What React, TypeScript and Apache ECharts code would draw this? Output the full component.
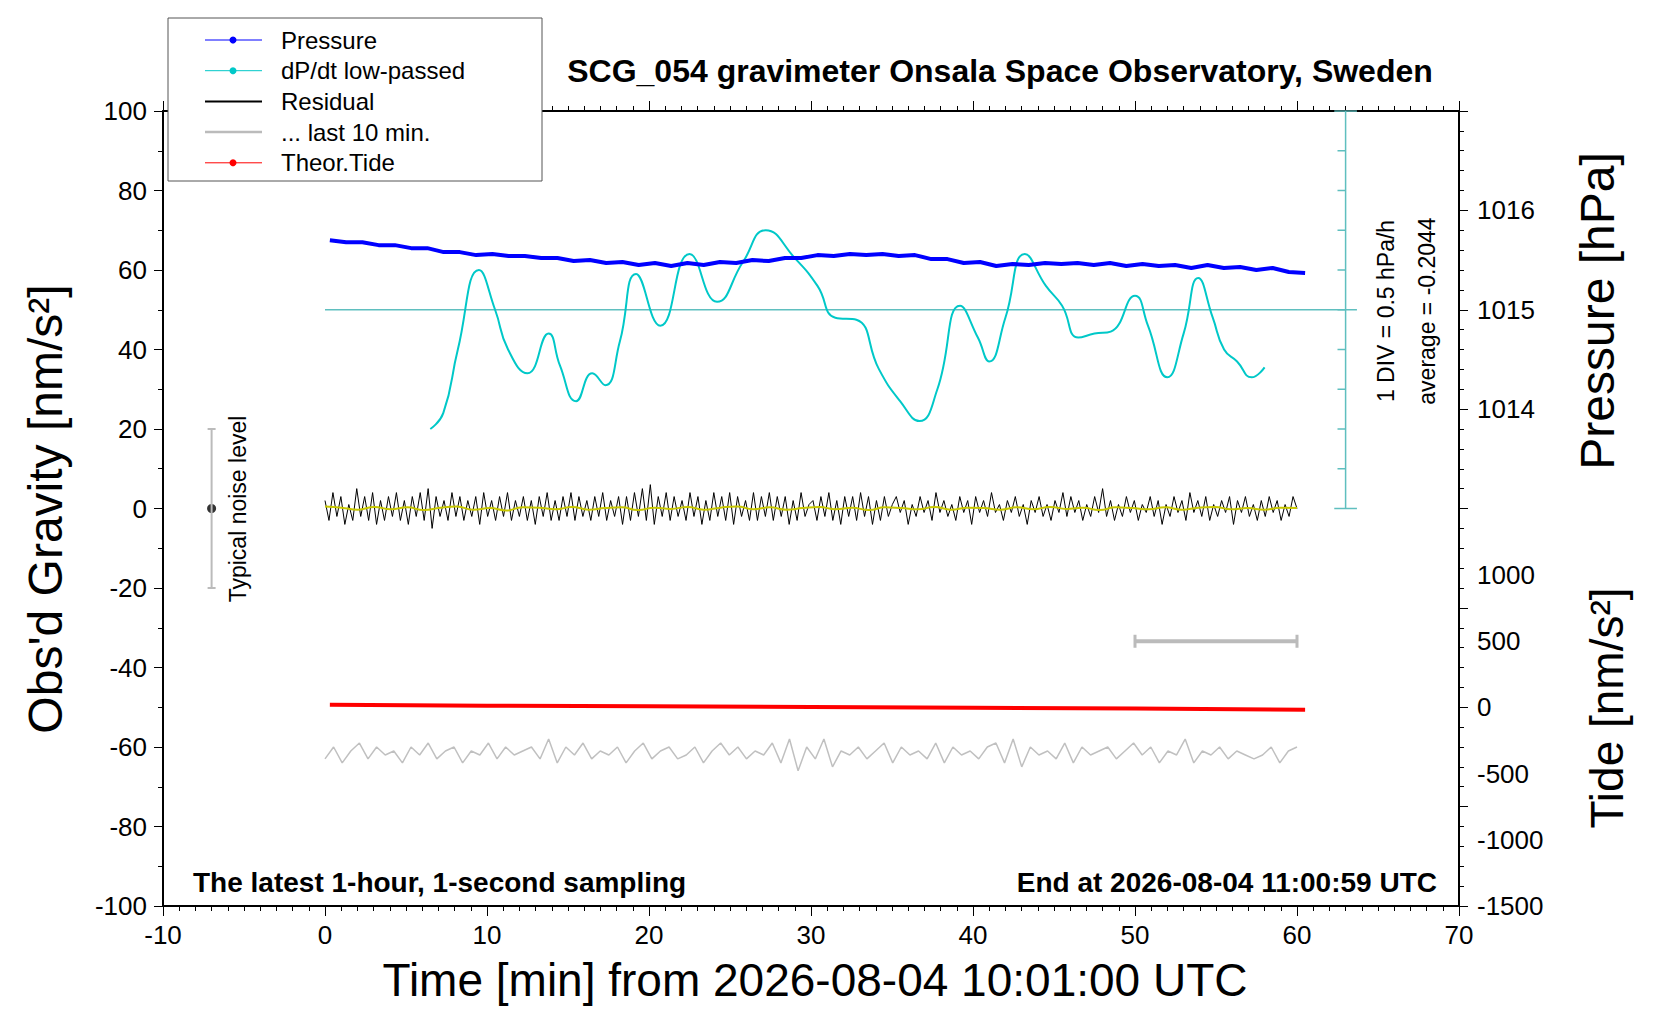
import * as echarts from "echarts";
import { useEffect, useRef } from "react";

const pressureStart = 0.3;
const pressureEnd = 60.5;
const pressure = [
  1015.70, 1015.68, 1015.68, 1015.65, 1015.65, 1015.62, 1015.62, 1015.58, 1015.58, 1015.55,
  1015.56, 1015.54, 1015.54, 1015.52, 1015.52, 1015.49, 1015.50, 1015.47, 1015.48, 1015.45,
  1015.47, 1015.44, 1015.47, 1015.45, 1015.48, 1015.47, 1015.50, 1015.49, 1015.52, 1015.52,
  1015.55, 1015.54, 1015.56, 1015.55, 1015.56, 1015.54, 1015.55, 1015.51, 1015.51, 1015.47,
  1015.48, 1015.44, 1015.46, 1015.45, 1015.47, 1015.46, 1015.47, 1015.45, 1015.47, 1015.44,
  1015.46, 1015.44, 1015.45, 1015.42, 1015.45, 1015.42, 1015.43, 1015.40, 1015.42, 1015.38,
  1015.37,
];

// dP/dt low-passed, in plot units (1 DIV = 10 units = 0.5 hPa/h, 50 = average)
const dpdt: [number, number][] = [
  [6.5, 20], [7.3, 24], [8.2, 40], [9.5, 60], [10.5, 50], [11.3, 40], [12.5, 34], [13.8, 44],
  [14.5, 36], [15.5, 27], [16.5, 34], [17.3, 31], [18.2, 42], [19.2, 59], [20.7, 46],
  [22.5, 64], [24.2, 52], [25.8, 62], [27.2, 70], [29, 63], [30.4, 56], [31.5, 48],
  [32.8, 47.5], [34.2, 35], [35.5, 27], [36.7, 22], [37.8, 30], [39.2, 51], [40.3, 43],
  [41, 37], [42, 48], [43.2, 64], [44.5, 56], [45.5, 51], [46.5, 43], [47.5, 44],
  [48.5, 44.5], [50, 53.5], [50.8, 46], [52, 33], [53, 44], [53.9, 58], [54.8, 48],
  [55.5, 40], [56.3, 37], [57.2, 33], [58, 35.5],
];

const residual = [
  2, -3, 4, -2, 3, -4, 1, -3, 5, -2, 3, -3, 4, -4, 2, -3, 3, -2, 4, -3, 2, -4, 3, -2, 4, -3,
  5, -5, 3, -2, 2, -3, 4, -2, 3, -3, 2, -2, 3, -4, 4, -2, 2, -3, 3, -2, 4, -3, 2, -2, 3, -3,
  2, -4, 3, -2, 4, -3, 2, -3, 3, -2, 4, -3, 3, -2, 2, -3, 3, -2, 4, -3, 2, -2, 3, -4, 3, -3,
  4, -2, 5, -3, 6, -4, 3, -2, 4, -3, 3, -2, 2, -3, 4, -2, 3, -4, 2, -3, 4, -2, 3, -3, 4, -4,
  3, -2, 2, -3, 4, -3, 3, -2, 4, -3, 3, -2, 3, -4, 2, -3, 4, -2, 1, 2, -3, 3, -2, 4, -3, 2,
  -4, 3, -2, 3, -3, 4, -2, 3, -4, 2, -3, 3, -2, 1, 3, -1, 2, -4, 1, -2, 3, -1, 2, -3, 4, -1,
  2, -2, 1, -3, 3, -1, 2, -4, 3, -1, 2, -2, 4, -1, 1, -3, 2, -1, 3, -2, 1, -4, 2, -1, 3, -2,
  1, -3, 2, -1, 4, -2, 3, -1, 2, -3, 1, -2, 3, -1, 5, -2, 2, -3, 1, -2, 3, -1, 2, -3, 1, -1,
  3, -2, 2, -4, 1, -2, 3, -1, 2, -3, 4, -1, 2, -2, 3, -3, 1, -2, 2, -1, 3, -4, 2, -1, 3, -2,
  1, -3, 2, -2, 3, -1, 2, -3, 1, -2, 3, 0,
];
const residualSmooth = [
  0.5, 0.2, -0.3, 0.4, -0.2, 0.3, -0.4, 0.2, 0.5, -0.3, 0.1, -0.5, 0.3, 0.2, -0.2, 0.4,
  -0.3, 0.1, 0.3, -0.4, 0.2, -0.1, 0.4, -0.3, 0.2, 0.5, -0.2, 0.3, -0.3, 0.1, 0.4, -0.2,
  0.2, -0.4, 0.3, 0.1, -0.2, 0.4, -0.3, 0.2, 0.1, -0.3, 0.3, -0.2, 0.4, -0.1, 0.2, -0.4,
  0.3, 0.1, -0.2, 0.3, -0.3, 0.2, 0.4, -0.2, 0.1, -0.3, 0.2, 0.1,
];
const last10 = [
  -63, -60, -64, -61, -59, -63, -60, -62, -61, -64, -60, -62, -59, -63, -61, -60, -64, -61,
  -62, -59, -63, -60, -62, -61, -60, -63, -58, -64, -60, -62, -59, -63, -61, -62, -60, -64,
  -61, -59, -63, -61, -60, -63, -62, -60, -64, -61, -59, -62, -60, -63, -61, -62, -59, -64,
  -58, -66, -60, -63, -58, -65, -61, -62, -60, -63, -61, -59, -64, -60, -62, -61, -63, -59,
  -64, -60, -62, -61, -63, -60, -59, -64, -58, -65, -60, -62, -61, -63, -59, -64, -60, -62,
  -61, -60, -63, -61, -59, -62, -60, -64, -61, -62, -58, -64, -61, -62, -60, -63, -61, -62,
  -63, -62, -60, -64, -61, -60,
];
const tide: [number, number][] = [
  [0.3, 18], [10, 12], [20, 8], [30, 2], [40, -4], [50, -10], [60.5, -18],
];
const noiseBar: [number, number][] = [[-7, -20], [-7, 20]];
const scaleBar: [number, number][] = [[50, -33.4], [60, -33.4]];
const divAxis = [0, 10, 20, 30, 40, 50, 60, 70, 80, 90, 100];

const font = "Liberation Sans, Arial, sans-serif";

const spread = (vals: number[], a: number, b: number) =>
  vals.map((v, i) => [a + ((b - a) * i) / (vals.length - 1), v]);

export default function App() {
  const ref = useRef<HTMLDivElement>(null);

  useEffect(() => {
    if (!ref.current) return;
    const chart = echarts.init(ref.current, null, { renderer: "svg" });

    const divTicks: (number[] | null)[] = [];
    divAxis.forEach((v) => {
      const long = v === 0 || v === 100;
      divTicks.push([long ? 62.3 : 62.5, v], [long ? 63.7 : 63, v], null);
    });

    const label = { fontSize: 26, color: "#000", fontFamily: font };
    const legendRows = [
      { name: "Pressure", color: "#0000ff", dot: true, w: 1 },
      { name: "dP/dt low-passed", color: "#00c8c8", dot: true, w: 1 },
      { name: "Residual", color: "#000", dot: false, w: 2 },
      { name: "... last 10 min.", color: "#bbbbbb", dot: false, w: 2.5 },
      { name: "Theor.Tide", color: "#ff0000", dot: true, w: 1 },
    ];
    const graphic: any[] = [
      { type: "rect", shape: { x: 160, y: 10, width: 374, height: 163 }, style: { fill: "#fff", stroke: "#555", lineWidth: 1 }, z: 100 },
    ];
    legendRows.forEach((r, i) => {
      const y = 32 + i * 30.7;
      graphic.push({ type: "line", shape: { x1: 197, y1: y, x2: 254, y2: y }, style: { stroke: r.color, lineWidth: r.w }, z: 101 });
      if (r.dot) graphic.push({ type: "circle", shape: { cx: 225, cy: y, r: 3.5 }, style: { fill: r.color }, z: 101 });
      graphic.push({ type: "text", x: 273, y, style: { text: r.name, font: `24px ${font}`, fill: "#000", verticalAlign: "middle" }, z: 101 });
    });
    const txt = (x: number, y: number, text: string, f: string, rot = false, align = "center") => ({
      type: "text", x, y, rotation: rot ? Math.PI / 2 : 0,
      style: { text, font: `${f} ${font}`, fill: "#000", align, verticalAlign: "middle" },
    });
    graphic.push(
      txt(992, 63, "SCG_054 gravimeter Onsala Space Observatory, Sweden", "bold 32px"),
      txt(185, 874, "The latest 1-hour, 1-second sampling", "bold 28px", false, "left"),
      txt(1429, 874, "End at 2026-08-04 11:00:59 UTC", "bold 28px", false, "right"),
      txt(37, 501, "Obs'd Gravity [nm/s²]", "48px", true),
      txt(1589, 303, "Pressure [hPa]", "48px", true),
      txt(1599, 700, "Tide [nm/s²]", "46px", true),
      txt(807, 972, "Time [min] from 2026-08-04 10:01:00 UTC", "46px"),
      txt(1378, 303, "1 DIV = 0.5 hPa/h", "23px", true),
      txt(1419, 303, "average = -0.2044", "23px", true),
      txt(230, 501, "Typical noise level", "23px", true),
    );

    const xBase = {
      type: "value", min: -10, max: 70, interval: 10,
      axisLine: { onZero: false, lineStyle: { color: "#000", width: 2 } },
      axisTick: { show: true, length: 10, lineStyle: { color: "#000" } },
      minorTick: { show: true, splitNumber: 10, length: 5, lineStyle: { color: "#000" } },
      splitLine: { show: false },
    };
    const tickStyle = { axisTick: { show: true, length: 9, lineStyle: { color: "#000" } } };

    chart.setOption({
      animation: false,
      grid: { left: 155, right: 193, top: 103, height: 795 },
      graphic,
      xAxis: [
        { ...xBase, position: "bottom", axisLabel: { ...label, margin: 16 } },
        { ...xBase, position: "top", axisLabel: { show: false } },
      ],
      yAxis: [
        {
          type: "value", min: -100, max: 100, interval: 20, position: "left",
          axisLine: { show: true, onZero: false, lineStyle: { color: "#000", width: 2 } },
          ...tickStyle,
          minorTick: { show: true, splitNumber: 2, length: 5, lineStyle: { color: "#000" } },
          splitLine: { show: false },
          axisLabel: { ...label, margin: 16 },
        },
        {
          type: "value", min: 1009, max: 1017, interval: 1, position: "right",
          axisLine: { show: true, onZero: false, lineStyle: { color: "#000", width: 2 } },
          ...tickStyle,
          minorTick: { show: true, splitNumber: 5, length: 5, lineStyle: { color: "#000" } },
          splitLine: { show: false },
          axisLabel: { ...label, margin: 18, formatter: (v: number) => (v >= 1014 && v <= 1016 ? String(v) : "") },
        },
        {
          type: "value", min: -1500, max: 4500, interval: 500, position: "right",
          axisLine: { show: false }, axisTick: { show: false },
          splitLine: { show: false },
          axisLabel: { ...label, margin: 18, formatter: (v: number) => (v <= 1000 ? String(v) : "") },
        },
      ],
      series: [
        { type: "line", data: spread(last10, 0, 60), symbol: "none", lineStyle: { color: "#c0c0c0", width: 1.5 } },
        { type: "line", data: spread(residual, 0, 60), symbol: "none", lineStyle: { color: "#000", width: 1 } },
        { type: "line", data: spread(residualSmooth, 0, 60), symbol: "none", smooth: true, lineStyle: { color: "#c8c800", width: 2 } },
        { type: "line", data: divTicks, symbol: "none", connectNulls: false, lineStyle: { color: "#5fbfbf", width: 1.5 } },
        { type: "line", data: [[63, 0], [63, 100]], symbol: "none", lineStyle: { color: "#5fbfbf", width: 1.5 } },
        { type: "line", data: [[0, 50], [63.7, 50]], symbol: "none", lineStyle: { color: "#5fbfbf", width: 1.5 } },
        { type: "line", data: dpdt, symbol: "none", smooth: 0.5, lineStyle: { color: "#00c8c8", width: 2 } },
        { type: "line", yAxisIndex: 1, data: spread(pressure, pressureStart, pressureEnd), symbol: "none", lineStyle: { color: "#0000ff", width: 4 } },
        { type: "line", yAxisIndex: 2, data: tide, symbol: "none", lineStyle: { color: "#ff0000", width: 4 } },
        { type: "line", data: scaleBar, symbol: "rect", symbolSize: [3, 13], itemStyle: { color: "#bbbbbb" }, lineStyle: { color: "#bbbbbb", width: 4 } },
        { type: "line", data: noiseBar, symbol: "rect", symbolSize: [8, 2], itemStyle: { color: "#bbbbbb" }, lineStyle: { color: "#bbbbbb", width: 2 } },
        { type: "scatter", data: [[-7, 0]], symbolSize: 9, itemStyle: { color: "#000" } },
      ],
    });
    return () => chart.dispose();
  }, []);

  return <div ref={ref} style={{ width: 1644, height: 1004 }} />;
}
